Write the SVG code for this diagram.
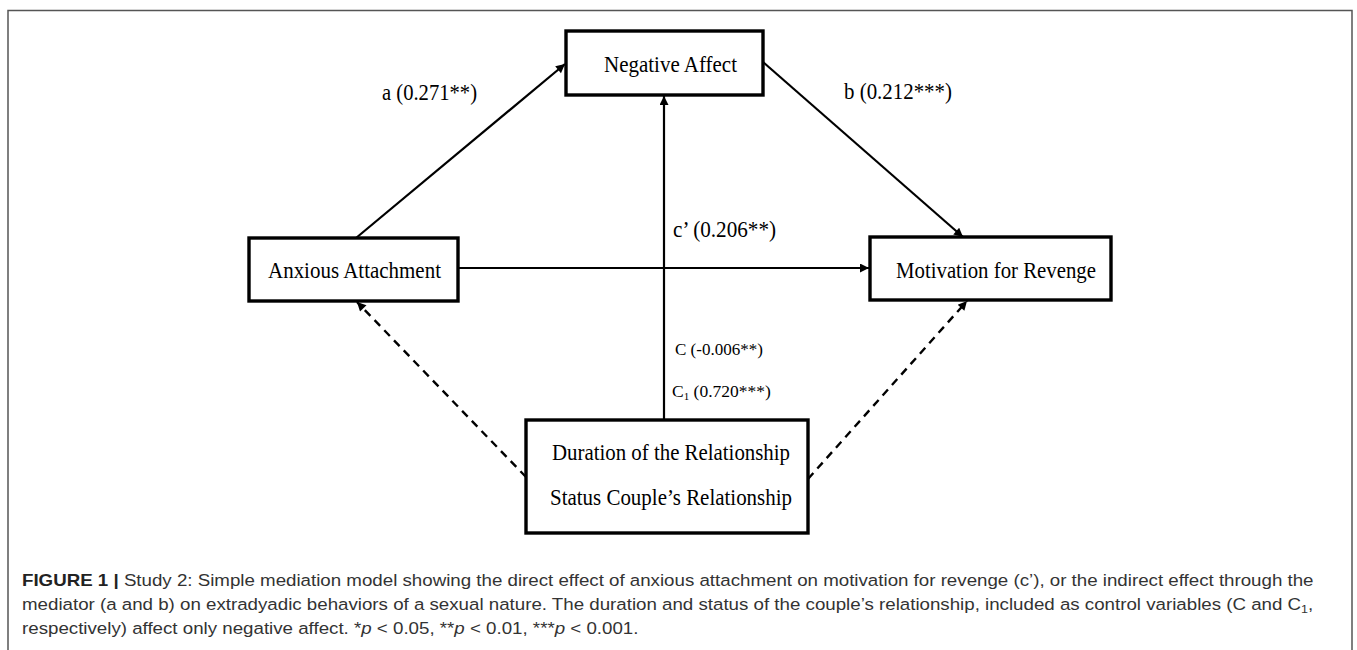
<svg xmlns="http://www.w3.org/2000/svg" width="1357" height="650" viewBox="0 0 1357 650">
<defs>
<marker id="arr" viewBox="0 0 10 10" refX="10" refY="5" markerWidth="11" markerHeight="9" markerUnits="userSpaceOnUse" orient="auto">
<path d="M0,0 L10,5 L0,10 z" fill="#000"/>
</marker>
<style>
.box{fill:#fff;stroke:#000;stroke-width:3.4}
.lbl{font-family:"Liberation Serif","Times New Roman",serif;font-size:22.5px;fill:#000}
.sm{font-family:"Liberation Serif","Times New Roman",serif;font-size:17.5px;fill:#000}
.edge{fill:none;stroke:#000;stroke-width:2.2;marker-end:url(#arr)}
.dash{stroke-dasharray:8 6;stroke-width:2.4}
.cap{font-family:"Liberation Sans",Arial,sans-serif;font-size:16.5px;fill:#333}
</style>
</defs>
<rect width="1357" height="650" fill="#fff"/>
<path d="M8 650 V10.5 H1352 V650" fill="none" stroke="#555" stroke-width="1.5"/>
<g id="connectors">
<line class="edge" x1="356" y1="238" x2="565" y2="64"/>
<line class="edge" x1="763" y1="62" x2="963" y2="237"/>
<line class="edge" x1="458" y1="268" x2="869" y2="268"/>
<line class="edge" x1="664" y1="420" x2="664" y2="96"/>
<line class="edge dash" x1="526" y1="477" x2="357" y2="302"/>
<line class="edge dash" x1="808" y1="479" x2="967" y2="301"/>
<text class="lbl" x="382" y="100" textLength="95" lengthAdjust="spacingAndGlyphs">a (0.271**)</text>
<text class="lbl" x="844" y="99" textLength="108" lengthAdjust="spacingAndGlyphs">b (0.212***)</text>
<text class="lbl" x="673" y="237" textLength="103" lengthAdjust="spacingAndGlyphs">c’ (0.206**)</text>
<text class="sm" x="675" y="355" textLength="88" lengthAdjust="spacingAndGlyphs">C (-0.006**)</text>
<text class="sm" x="672" y="397">C<tspan font-size="11" dy="3">1</tspan><tspan dy="-3"> (0.720***)</tspan></text>
</g>
<g id="node-negative-affect">
<rect class="box" x="566" y="31" width="197" height="64"/>
<text class="lbl" x="604" y="72" textLength="133" lengthAdjust="spacingAndGlyphs">Negative Affect</text>
</g>
<g id="node-anxious-attachment">
<rect class="box" x="249" y="238" width="209" height="63"/>
<text class="lbl" x="268" y="278" textLength="173" lengthAdjust="spacingAndGlyphs">Anxious Attachment</text>
</g>
<g id="node-motivation-revenge">
<rect class="box" x="870" y="237" width="241" height="63"/>
<text class="lbl" x="896" y="278" textLength="200" lengthAdjust="spacingAndGlyphs">Motivation for Revenge</text>
</g>
<g id="node-controls">
<rect class="box" x="526" y="420" width="282" height="113"/>
<text class="lbl" x="552" y="460" textLength="238" lengthAdjust="spacingAndGlyphs">Duration of the Relationship</text>
<text class="lbl" x="550" y="505" textLength="242" lengthAdjust="spacingAndGlyphs">Status Couple’s Relationship</text>
</g>
<g id="caption" transform="translate(22 0) scale(1.135 1)">
<text class="cap" x="0" y="586"><tspan font-weight="bold" fill="#222">FIGURE 1 |</tspan> Study 2: Simple mediation model showing the direct effect of anxious attachment on motivation for revenge (c’), or the indirect effect through the</text>
<text class="cap" x="0" y="610">mediator (a and b) on extradyadic behaviors of a sexual nature. The duration and status of the couple’s relationship, included as control variables (C and C<tspan font-size="11" dy="3">1</tspan><tspan dy="-3">,</tspan></text>
<text class="cap" x="0" y="634">respectively) affect only negative affect. *<tspan font-style="italic">p</tspan> &lt; 0.05, **<tspan font-style="italic">p</tspan> &lt; 0.01, ***<tspan font-style="italic">p</tspan> &lt; 0.001.</text>
</g>
</svg>
